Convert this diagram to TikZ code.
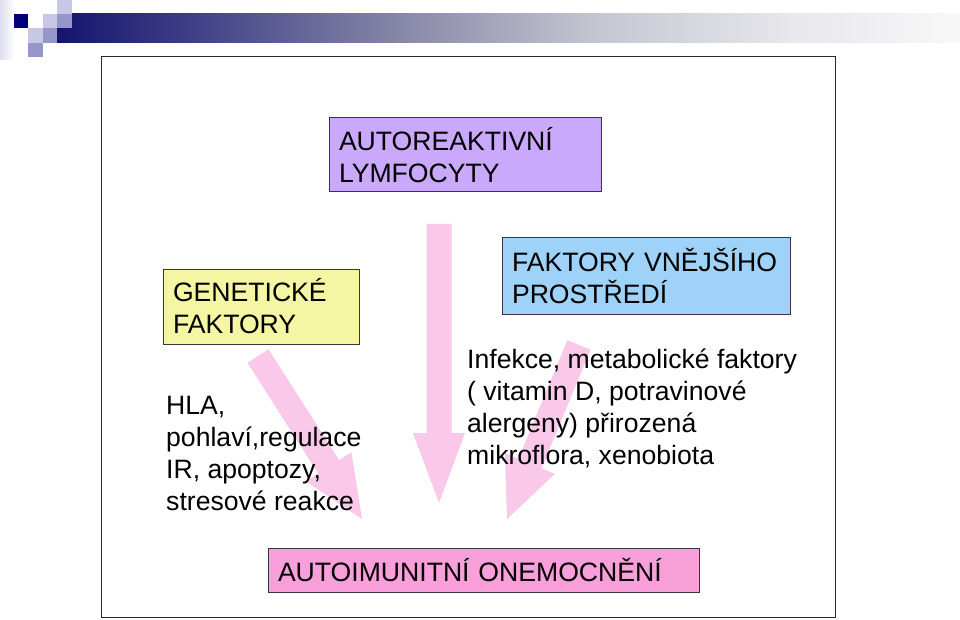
\documentclass[tikz,border=0pt]{standalone}
\usepackage{fontspec}
\setmainfont{Liberation Sans}
\usetikzlibrary{calc}
\definecolor{navyA}{RGB}{20,20,110}
\definecolor{hdrB}{RGB}{66,66,136}
\definecolor{hdrC}{RGB}{135,135,168}
\definecolor{hdrD}{RGB}{199,199,210}
\definecolor{hdrE}{RGB}{232,232,237}
\definecolor{hdrF}{RGB}{248,248,248}
\definecolor{sqLight}{RGB}{200,200,230}
\definecolor{sqMid}{RGB}{150,150,200}
\definecolor{sqDark}{RGB}{0,0,120}
\definecolor{lavFill}{RGB}{202,168,252}
\definecolor{yelFill}{RGB}{244,246,164}
\definecolor{bluFill}{RGB}{158,210,248}
\definecolor{pnkFill}{RGB}{249,160,218}
\definecolor{arrPink}{RGB}{250,200,232}
\definecolor{boxLine}{RGB}{60,50,70}
\definecolor{frameLine}{RGB}{40,40,40}
\newcommand\diafont{\fontsize{26.6}{32}\selectfont}
\newcommand\fatarrow[5]{%
  \coordinate (tmpH) at ($(#2)!#5!(#1)$);
  \fill[arrPink] ($(#1)!#3!90:(#2)$) -- ($(tmpH)!#3!90:(#2)$) -- ($(tmpH)!#4!90:(#2)$)
    -- (#2) -- ($(tmpH)!#4!-90:(#2)$) -- ($(tmpH)!#3!-90:(#2)$) -- ($(#1)!#3!-90:(#2)$) -- cycle;}
\begin{document}
\begin{tikzpicture}[x=1pt,y=1pt,
  box/.style={draw=boxLine, line width=1pt, fill=#1, align=left, inner xsep=10pt,
    inner ysep=0pt, outer sep=0pt, font=\diafont},
  plain/.style={align=left, inner sep=0pt, font=\diafont}]
\useasboundingbox (0,0) rectangle (960,-620);
% header
\shade[left color=navyA, right color=hdrB] (57,-14) rectangle (200,-43);
\shade[left color=hdrB, right color=hdrC] (199.5,-14) rectangle (400,-43);
\shade[left color=hdrC, right color=hdrD] (399.5,-14) rectangle (600,-43);
\shade[left color=hdrD, right color=hdrE] (599.5,-14) rectangle (800,-43);
\shade[left color=hdrE, right color=hdrF] (799.5,-14) rectangle (960,-43);
\shade[left color=sqLight!60, right color=white] (0,0) rectangle (14,-60);
\fill[sqLight] (57,0) rectangle (72,-14);
\fill[sqDark] (14,-14) rectangle (28,-28);
\fill[sqLight] (43,-14) rectangle (57,-28);
\fill[sqMid] (57,-14) rectangle (72,-28);
\fill[sqLight] (28,-28) rectangle (43,-43);
\fill[sqMid] (43,-28) rectangle (57,-43);
\fill[sqMid] (28,-43) rectangle (43,-57);
% frame
\draw[frameLine, line width=1pt] (101,-57) rectangle (835,-617);
% arrows
\coordinate (a1s) at (439,-224); \coordinate (a1e) at (439,-503);
\coordinate (a2s) at (258,-356); \coordinate (a2e) at (362,-519);
\coordinate (a3s) at (579,-345); \coordinate (a3e) at (507,-519);
\fatarrow{a1s}{a1e}{12.5pt}{26pt}{70pt}
\fatarrow{a2s}{a2e}{12.5pt}{27pt}{62pt}
\fatarrow{a3s}{a3e}{12.5pt}{27pt}{60pt}
% boxes
\node[box=lavFill, minimum width=272pt, text width=252pt, minimum height=74pt] (auto) at (465,-155)
  {\raisebox{1pt}{AUTOREAKTIVNÍ}\\\raisebox{1pt}{LYMFOCYTY}};
\node[box=yelFill, minimum width=196pt, text width=176pt, minimum height=75pt] (gen) at (261,-306.5)
  {GENETICKÉ\\FAKTORY};
\node[box=bluFill, minimum width=288pt, text width=268pt, minimum height=76pt] (env) at (646,-276)
  {FAKTORY VNĚJŠÍHO\\PROSTŘEDÍ};
\node[box=pnkFill, minimum width=431pt, text width=411pt, minimum height=44pt] (dis) at (483.5,-570)
  {AUTOIMUNITNÍ ONEMOCNĚNÍ};
% texts
\node[plain, anchor=west] (gtext) at (166,-453)
  {HLA,\\pohlaví,regulace\\IR, apoptozy,\\stresové reakce};
\node[plain, anchor=west] (etext) at (467,-408)
  {Infekce, metabolické faktory\\( vitamin D, potravinové\\alergeny) přirozená\\mikroflora, xenobiota};
\end{tikzpicture}
\end{document}
